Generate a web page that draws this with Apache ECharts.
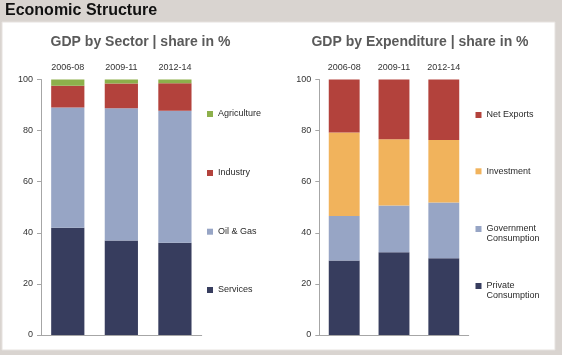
<!DOCTYPE html>
<html>
<head>
<meta charset="utf-8">
<script src="https://cdn.jsdelivr.net/npm/echarts@6/dist/echarts.min.js"></script>
<style>
html,body{margin:0;padding:0;background:#d9d4d0;}
#c{width:562px;height:355px;}
</style>
</head>
<body>
<div id="c"></div>
<script>
// ---- Data ----
var categories = ['2006-08', '2009-11', '2012-14'];
var yTicks = [0, 20, 40, 60, 80, 100];

// GDP by Sector (share in %)
var services    = [42.0, 37.0, 36.1];
var oilGas      = [47.0, 51.7, 51.7];
var industry    = [8.6, 9.7, 10.7];
var agriculture = [2.4, 1.6, 1.5];

// GDP by Expenditure (share in %)
var privateCons = [29.2, 32.4, 30.0];
var govCons     = [17.4, 18.3, 21.9];
var investment  = [32.7, 25.9, 24.4];
var netExports  = [20.7, 23.4, 23.7];

var C_NAVY = '#373d5e', C_LBLUE = '#97a5c5', C_RED = '#b3423c', C_GREEN = '#8db04b', C_ORANGE = '#f1b35c';
var FONT = 'Liberation Sans, Arial, sans-serif';
var AXIS_COLOR = '#a6a6a6';

var chart = echarts.init(document.getElementById('c'), null, {renderer: 'canvas'});

function bottomX(grid) {
  return {type: 'category', gridIndex: grid, position: 'bottom', data: categories,
    axisLine: {show: true, onZero: false, lineStyle: {color: AXIS_COLOR, width: 1}},
    axisTick: {show: false}, axisLabel: {show: false}, splitLine: {show: false}};
}
function topX(grid) {
  return {type: 'category', gridIndex: grid, position: 'top', data: categories,
    axisLine: {show: false, onZero: false}, axisTick: {show: false}, splitLine: {show: false},
    axisLabel: {show: true, margin: 7, color: '#333', fontSize: 9, fontFamily: FONT}};
}
function yAx(grid) {
  return {type: 'value', gridIndex: grid, min: yTicks[0], max: yTicks[yTicks.length - 1],
    interval: yTicks[1] - yTicks[0],
    axisLine: {show: true, lineStyle: {color: AXIS_COLOR, width: 1}},
    axisTick: {show: true, inside: false, length: 4, lineStyle: {color: AXIS_COLOR}},
    splitLine: {show: false},
    axisLabel: {margin: 8, color: '#333', fontSize: 9, fontFamily: FONT}};
}
function bar(name, data, xi, yi, color, stack) {
  return {name: name, type: 'bar', stack: stack, xAxisIndex: xi, yAxisIndex: yi, data: data,
    barCategoryGap: '38%', itemStyle: {color: color}, emphasis: {disabled: true}};
}
function leg(name, left, top, multi) {
  return {show: true, data: [name], left: left, top: top, orient: 'vertical', padding: 0,
    icon: 'rect', itemWidth: 6, itemHeight: 6, selectedMode: false,
    formatter: multi ? function (n) { return '\n' + n.replace(' ', '\n'); } : undefined,
    textStyle: multi ? {fontSize: 9, color: '#2a2a2a', fontFamily: FONT, lineHeight: 10}
                     : {fontSize: 9, color: '#2a2a2a', fontFamily: FONT}};
}

var option = {
  animation: false,
  backgroundColor: '#d9d4d0',
  graphic: [
    {type: 'rect', shape: {x: 2, y: 22, width: 553, height: 328}, style: {fill: '#ffffff', stroke: '#e6e2df', lineWidth: 1}, z: -10},
    {type: 'text', x: 5, y: 11, style: {text: 'Economic Structure', font: 'bold 16px ' + FONT, fill: '#111', verticalAlign: 'middle'}},
    {type: 'text', x: 140.5, y: 42, style: {text: 'GDP by Sector | share in %', font: 'bold 14px ' + FONT, fill: '#5a5a5a', align: 'center', verticalAlign: 'middle'}},
    {type: 'text', x: 420, y: 42, style: {text: 'GDP by Expenditure | share in %', font: 'bold 14px ' + FONT, fill: '#5a5a5a', align: 'center', verticalAlign: 'middle'}}
  ],
  grid: [
    {left: 41, top: 79.5, width: 160.7, height: 255.5, containLabel: false},
    {left: 319.3, top: 79.5, width: 149.4, height: 255.5, containLabel: false}
  ],
  xAxis: [bottomX(0), topX(0), bottomX(1), topX(1)],
  yAxis: [yAx(0), yAx(1)],
  legend: [
    leg('Agriculture', 207, 115 - 5.5),
    leg('Industry', 207, 174 - 5.5),
    leg('Oil & Gas', 207, 232.7 - 5.5),
    leg('Services', 207, 291 - 5.5),
    leg('Net Exports', 475.5, 116 - 5.5),
    leg('Investment', 475.5, 172.3 - 5.5),
    leg('Government Consumption', 475.5, 229 - 15, true),
    leg('Private Consumption', 475.5, 286 - 15, true)
  ],
  series: [
    bar('Services', services, 0, 0, C_NAVY, 's'),
    bar('Oil & Gas', oilGas, 0, 0, C_LBLUE, 's'),
    bar('Industry', industry, 0, 0, C_RED, 's'),
    bar('Agriculture', agriculture, 0, 0, C_GREEN, 's'),
    bar('Private Consumption', privateCons, 2, 1, C_NAVY, 'e'),
    bar('Government Consumption', govCons, 2, 1, C_LBLUE, 'e'),
    bar('Investment', investment, 2, 1, C_ORANGE, 'e'),
    bar('Net Exports', netExports, 2, 1, C_RED, 'e')
  ]
};
chart.setOption(option);
</script>
</body>
</html>
